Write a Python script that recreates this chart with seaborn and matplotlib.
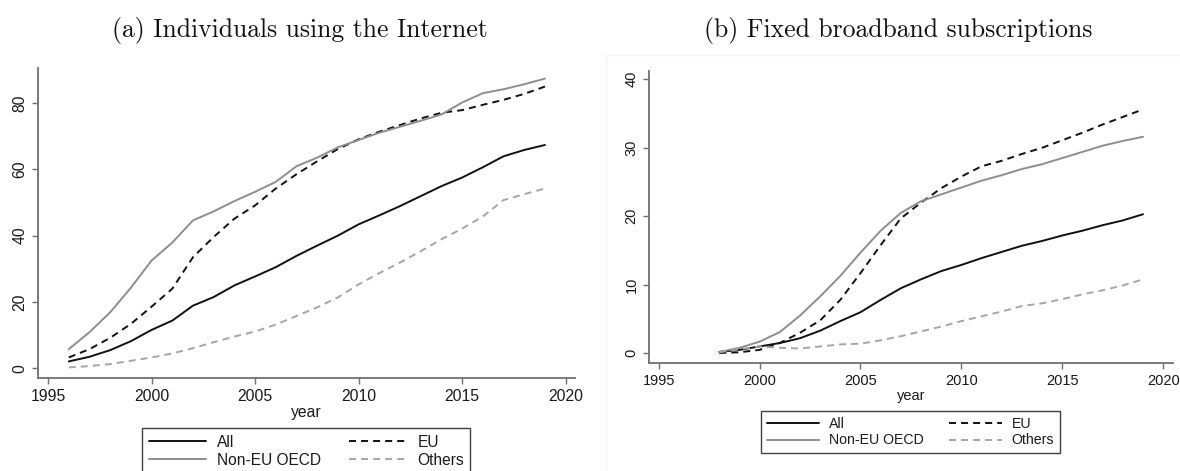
import matplotlib
matplotlib.use("Agg")
import matplotlib.pyplot as plt
import seaborn as sns
import pandas as pd
from matplotlib.lines import Line2D
from matplotlib.patches import Rectangle

# ---------------- data ----------------
groups = ["All", "EU", "Non-EU OECD", "Others"]

years_a = list(range(1996, 2020))
internet_all = [2.1, 3.5, 5.5, 8.2, 11.6, 14.4, 18.9, 21.5, 25.0, 27.7, 30.5, 33.9,
                37.0, 40.0, 43.4, 46.1, 48.9, 51.9, 54.9, 57.5, 60.6, 63.9, 65.8, 67.3]
internet_eu = [3.3, 5.8, 9.2, 13.4, 18.6, 24.0, 33.5, 39.6, 45.1, 49.1, 54.2, 58.5,
               62.4, 66.1, 69.0, 71.3, 73.3, 75.3, 77.0, 77.8, 79.4, 80.9, 82.7, 84.9]
internet_noneu = [5.8, 10.9, 16.9, 24.3, 32.5, 37.9, 44.6, 47.3, 50.4, 53.2, 56.2, 60.9,
                  63.5, 66.6, 68.8, 71.0, 72.8, 74.6, 76.5, 80.1, 82.9, 84.1, 85.6, 87.3]
internet_others = [0.3, 0.7, 1.3, 2.3, 3.3, 4.5, 6.1, 7.9, 9.6, 11.1, 13.2, 15.8,
                   18.4, 21.4, 25.3, 28.7, 31.9, 35.3, 38.9, 42.1, 45.8, 50.7, 52.5, 54.2]

years_b = list(range(1998, 2020))
bb_all = [0.2, 0.5, 1.0, 1.5, 2.2, 3.3, 4.7, 6.0, 7.8, 9.5, 10.8, 12.0,
          12.9, 13.9, 14.8, 15.7, 16.4, 17.2, 17.9, 18.7, 19.4, 20.3]
bb_eu = [0.05, 0.15, 0.5, 1.5, 3.0, 4.8, 7.8, 11.7, 15.8, 19.7, 22.0, 24.1,
         25.8, 27.3, 28.1, 29.1, 30.0, 31.1, 32.2, 33.4, 34.5, 35.6]
bb_noneu = [0.2, 0.8, 1.7, 3.1, 5.5, 8.3, 11.3, 14.7, 17.9, 20.5, 22.2, 23.2,
            24.2, 25.2, 26.0, 26.9, 27.6, 28.5, 29.4, 30.3, 31.0, 31.6]
bb_others = [0.15, 0.6, 1.0, 0.8, 0.7, 1.0, 1.3, 1.4, 1.9, 2.5, 3.2, 3.9,
             4.7, 5.4, 6.1, 6.9, 7.3, 7.9, 8.6, 9.2, 9.9, 10.8]

x_ticks = [1995, 2000, 2005, 2010, 2015, 2020]
y_ticks_a = [0, 20, 40, 60, 80]
y_ticks_b = [0, 10, 20, 30, 40]

title_a = "(a) Individuals using the Internet"
title_b = "(b) Fixed broadband subscriptions"


def long_df(years, series):
    rows = []
    for g, vals in zip(groups, series):
        for y, v in zip(years, vals):
            rows.append({"year": y, "value": v, "group": g})
    return pd.DataFrame(rows)


df_a = long_df(years_a, [internet_all, internet_eu, internet_noneu, internet_others])
df_b = long_df(years_b, [bb_all, bb_eu, bb_noneu, bb_others])

# ---------------- style ----------------
sns.set_theme(style="ticks")
plt.rcParams["font.family"] = ["Liberation Sans", "DejaVu Sans"]

W, H = 1180, 471
fig = plt.figure(figsize=(W / 100, H / 100), dpi=100)
fig.patch.set_facecolor("white")

palette = {"All": "#111111", "EU": "#111111",
           "Non-EU OECD": "#8e8e8e", "Others": "#a6a6a6"}
dash_map = {"All": "", "EU": (3.6, 2.6), "Non-EU OECD": "", "Others": (3.6, 2.6)}
LW = 1.4
spine_col = "#707070"
text_col = "#1a1a1a"

# faint frame around right panel
fig.patches.append(Rectangle((606 / W, -0.2), 0.6, 1.2 - 55 / H,
                             transform=fig.transFigure, fill=False,
                             edgecolor="#f2f2f2", lw=1.0, zorder=0))


def px(x0, y0, x1, y1):
    return [x0 / W, 1 - y1 / H, (x1 - x0) / W, (y1 - y0) / H]


ax_a = fig.add_axes(px(37.7, 68.3, 575, 377.7))
ax_b = fig.add_axes(px(649, 70.7, 1172.7, 362.7))


def draw(ax, df, xlim, ylim, yticks, fs_tick, fs_leg, leg_cx, leg_top):
    sns.lineplot(data=df, x="year", y="value", hue="group", style="group",
                 hue_order=groups, style_order=groups, palette=palette,
                 dashes=dash_map, lw=LW, ax=ax, legend=False)
    ax.set_xlim(*xlim)
    ax.set_ylim(*ylim)
    ax.set_xticks(x_ticks)
    ax.set_yticks(yticks)
    ax.set_ylabel("")
    ax.set_xlabel("year", fontsize=fs_tick, color=text_col, labelpad=1)
    for s in ["top", "right"]:
        ax.spines[s].set_visible(False)
    for s in ["left", "bottom"]:
        ax.spines[s].set_color(spine_col)
        ax.spines[s].set_linewidth(1.3)
    ax.tick_params(axis="both", colors=spine_col, labelcolor=text_col,
                   labelsize=fs_tick, length=4.5, width=1.0, direction="out")
    ax.tick_params(axis="x", pad=3.5)
    ax.tick_params(axis="y", pad=3)
    for lab in ax.get_yticklabels():
        lab.set_rotation(90)
        lab.set_va("center")
        lab.set_ha("right")
    ax.set_facecolor("white")

    order = ["All", "Non-EU OECD", "EU", "Others"]
    handles = []
    for g in order:
        d = dash_map[g]
        ls = "-" if d == "" else (0, d)
        handles.append(Line2D([], [], color=palette[g], lw=LW, linestyle=ls))
    leg = ax.legend(handles, order, ncol=2, loc="upper center",
                    bbox_to_anchor=(leg_cx / W, 1 - leg_top / H),
                    bbox_transform=fig.transFigure, borderaxespad=0,
                    frameon=True, fancybox=False, edgecolor="#404040",
                    framealpha=1, fontsize=fs_leg, handlelength=3.7,
                    handletextpad=0.7, columnspacing=1.8, labelspacing=0.2,
                    borderpad=0.4)
    leg.get_frame().set_linewidth(1.0)
    for t in leg.get_texts():
        t.set_color(text_col)


draw(ax_a, df_a, (1994.5, 2020.45), (-2.8, 90.4), y_ticks_a, 11.3, 11.2, 306.3, 428.3)
draw(ax_b, df_b, (1994.52, 2020.47), (-1.37, 41.25), y_ticks_b, 10.5, 10.2, 910.5, 411)

fig.text(300 / W, 1 - 31 / H, title_a, ha="center", va="center",
         fontfamily="cmr10", fontsize=18.5, color="#111111")
fig.text(898 / W, 1 - 30 / H, title_b, ha="center", va="center",
         fontfamily="cmr10", fontsize=18.5, color="#111111")

fig.savefig("out.png", dpi=100, facecolor="white")
